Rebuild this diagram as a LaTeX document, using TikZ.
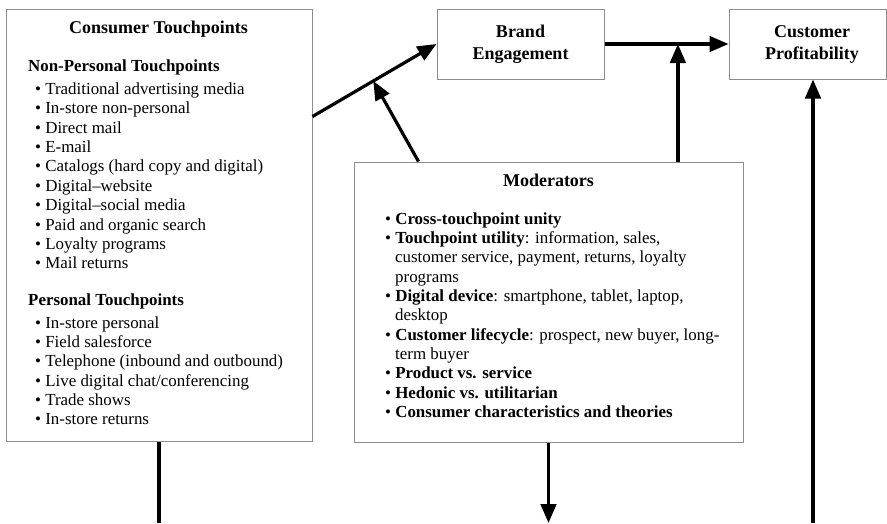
\documentclass[tikz,border=0pt]{standalone}
\usepackage{fontspec}
\setmainfont{Liberation Serif}
\usetikzlibrary{arrows.meta,calc}
\begin{document}
\begin{tikzpicture}[x=1pt,y=-1pt,
  box/.style={draw={rgb,255:red,140;green,140;blue,140}, line width=1pt, fill=white, inner sep=0pt},
  ttl/.style={font=\fontsize{18}{22}\selectfont\bfseries, inner sep=0pt, anchor=base},
  sec/.style={font=\fontsize{16.9}{19.4}\selectfont\bfseries, inner sep=0pt, anchor=base west},
  itm/.style={font=\fontsize{16.9}{19.4}\selectfont, inner sep=0pt, anchor=base west},
  conn/.style={line width=3.2pt},
  arr/.style={conn, -{Triangle[length=19pt,width=15.5pt]}}]

\useasboundingbox (0,0) rectangle (887,523);

% boxes
\node[box, minimum width=306pt, minimum height=432pt] (ct) at (159,225) {};
\node[box, minimum width=167pt, minimum height=70pt] (be) at (520.5,44) {};
\node[box, minimum width=157pt, minimum height=70pt] (cp) at (807.5,44) {};
\node[box, minimum width=389pt, minimum height=280pt] (mod) at (548.5,302) {};

% Consumer touchpoints text
\node[ttl] (ctT) at (158.5,33.3) {Consumer Touchpoints};
\node[sec] (npT) at (28,71) {Non-Personal Touchpoints};
\foreach \t [count=\i] in {Traditional advertising media, In-store non-personal, Direct mail, E-mail,
  Catalogs (hard copy and digital), Digital–website, Digital–social media, Paid and organic search,
  Loyalty programs, Mail returns}
  \node[itm] (np\i) at (35,{94.3+19.4*(\i-1)}) {\textbullet\ \t};
\node[sec] (pT) at (28,305.7) {Personal Touchpoints};
\foreach \t [count=\i] in {In-store personal, Field salesforce, Telephone (inbound and outbound),
  Live digital chat/conferencing, Trade shows, In-store returns}
  \node[itm] (p\i) at (35,{328.3+19.3*(\i-1)}) {\textbullet\ \t};

% Brand / Customer text
\node[ttl] (beT1) at (520.5,37) {Brand};
\node[ttl] (beT2) at (520.5,59.5) {Engagement};
\node[ttl] (cpT1) at (812,37) {Customer};
\node[ttl] (cpT2) at (812,59.5) {Profitability};

% Moderators text
\node[ttl] (modT) at (548.5,186) {Moderators};
\foreach \x/\t [count=\i] in {
  385/{\textbullet\ \textbf{Cross-touchpoint unity}},
  385/{\textbullet\ \textbf{Touchpoint utility}: information, sales,},
  395/{customer service, payment, returns, loyalty},
  395/{programs},
  385/{\textbullet\ \textbf{Digital device}: smartphone, tablet, laptop,},
  395/{desktop},
  385/{\textbullet\ \textbf{Customer lifecycle}: prospect, new buyer, long-},
  395/{term buyer},
  385/{\textbullet\ \textbf{Product vs. service}},
  385/{\textbullet\ \textbf{Hedonic vs. utilitarian}},
  385/{\textbullet\ \textbf{Consumer characteristics and theories}}}
  \node[itm] (m\i) at (\x,{224.3+19.3*(\i-1)}) {\t};

% connectors
\coordinate (c1) at ($(ct.north east)+(0,108)$);
\draw[arr] (c1) -- (be.west);
\path (c1) -- (be.west) coordinate[pos=0.49] (j1);
\coordinate (c2) at ($(mod.north west)+(65,0)$);
\draw[arr] (c2) -- (j1);
\draw[arr] (be.east) -- (cp.west);
\path (be.east) -- (cp.west) coordinate[pos=0.592] (j2);
\draw[arr] (mod.north -| j2) -- (j2);
\coordinate (b1) at (159,523);
\draw[conn] (ct.south) -- (b1);
\coordinate (b2) at (548.5,523);
\draw[arr] (mod.south) -- (b2);
\coordinate (b3) at (813,523);
\draw[arr] (b3) -- (b3 |- cp.south);
\end{tikzpicture}
\end{document}
